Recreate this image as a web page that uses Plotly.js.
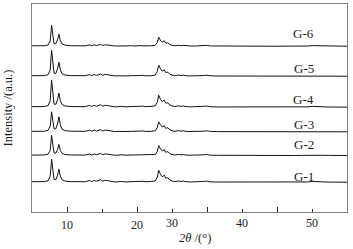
<!DOCTYPE html>
<html>
<head>
<meta charset="utf-8">
<script src="https://cdn.plot.ly/plotly-3.0.1.min.js"></script>
<style>html,body{margin:0;padding:0;background:#fff;}#chart{width:353px;height:249px;}</style>
</head>
<body>
<div id="chart"></div>
<script>
// 2θ positions (degrees)
var twoTheta = [5,6,6.8,7.3,7.6,7.8,7.95,8.15,8.4,8.65,8.85,9.05,9.3,9.7,10.5,11.3,12.0,12.6,13.2,13.5,13.9,14.2,14.8,15.1,15.5,15.9,16.3,16.8,17.3,17.8,18.3,19.2,19.7,20.3,20.8,21.3,22.1,22.6,22.9,23.1,23.35,23.6,23.9,24.1,24.4,24.7,25.0,25.4,25.9,26.3,26.6,27.0,27.6,28.4,29.3,29.9,30.5,31.5,32.8,34.0,35.2,36.3,37.5,38.8,40.0,41.3,42.5,43.5,44.4,45.1,45.6,46.3,47.5,48.6,49.3,50];

var sampleNames = ["G-1","G-2","G-3","G-4","G-5","G-6"];

var intensityG1 = [0.5,0.3,0.6,1.5,6,23,15,3,2.5,7,13,6,2.5,1.2,0.6,0.4,0.3,0.5,1.8,0.8,1.8,0.9,2.5,1,2,1.5,0.6,0.3,0.4,0.8,0.3,0.6,0.3,0.8,1,0.4,0.6,1.2,5,12,8,5.5,7,4,4.5,2.2,1.2,0.6,1.3,0.7,1.2,0.5,0.3,0.2,0.7,1.1,0.4,0.2,0.2,0.3,0.1,0.3,0.2,0.1,0,0.1,0,0.1,0.3,0.8,0.6,0.2,0.1,0.1,0.2,0];
var intensityG2 = [0.4,0.3,0.5,1.3,5,20,13,2.6,2.2,6,11,5,2.2,1,0.5,0.3,0.3,0.4,1.4,0.6,1.5,0.7,2,0.8,1.6,1.2,0.5,0.3,0.3,0.7,0.3,0.5,0.2,0.7,0.8,0.3,0.5,1,4,10,6.5,4.5,6,3.3,3.8,1.8,1,0.5,1.1,0.6,1,0.4,0.3,0.2,0.6,0.9,0.3,0.2,0.1,0.3,0.1,0.2,0.1,0.1,0,0.1,0,0.1,0.2,0.6,0.5,0.2,0.1,0.1,0.1,0];
var intensityG3 = [0.5,0.3,0.6,1.5,5.5,20,14,3,3,8,15,7,2.6,1.2,0.6,0.4,0.3,0.5,1.6,0.7,1.7,0.8,2.2,0.9,1.8,1.3,0.5,0.3,0.4,0.7,0.3,0.5,0.3,0.7,0.9,0.4,0.5,1.1,4.2,10,7,4.8,6.2,3.5,4,2,1.1,0.5,1.2,0.6,1.1,0.4,0.3,0.2,0.6,1,0.4,0.2,0.2,0.3,0.1,0.2,0.2,0.1,0,0.1,0,0.1,0.3,0.7,0.5,0.2,0.1,0.1,0.2,0];
var intensityG4 = [0.5,0.3,0.6,1.6,6.5,27,17,3.2,2.8,7.5,14,6.5,2.6,1.2,0.6,0.4,0.3,0.5,1.7,0.8,1.8,0.9,2.4,1,1.9,1.4,0.6,0.3,0.4,0.8,0.3,0.6,0.3,0.8,1,0.4,0.6,1.2,5,12,8,5.5,7,4,4.3,2.1,1.2,0.6,1.3,0.7,1.2,0.5,0.3,0.2,0.7,1.1,0.4,0.2,0.2,0.3,0.1,0.3,0.2,0.1,0,0.1,0,0.1,0.3,0.8,0.6,0.2,0.1,0.1,0.2,0];
var intensityG5 = [0.5,0.3,0.6,1.5,6,26,16,3,2.7,7.5,14,6.3,2.5,1.2,0.6,0.4,0.3,0.5,1.5,0.7,1.6,0.8,2.2,0.9,1.8,1.3,0.5,0.3,0.4,0.7,0.3,0.5,0.3,0.7,0.9,0.4,0.5,1.1,4.6,11,7.5,5,6.5,3.7,4.1,2,1.1,0.5,1.2,0.6,1.1,0.4,0.3,0.2,0.6,1,0.4,0.2,0.2,0.3,0.1,0.3,0.2,0.1,0,0.1,0,0.1,0.3,0.7,0.5,0.2,0.1,0.1,0.2,0];
var intensityG6 = [0.5,0.3,0.5,1.3,5,21,13,2.7,2.4,6.5,12,5.5,2.3,1.1,0.5,0.4,0.3,0.4,1.3,0.6,1.4,0.7,1.9,0.8,1.5,1.1,0.5,0.3,0.3,0.6,0.3,0.5,0.2,0.6,0.8,0.3,0.5,1,3.8,9,6,4.2,5.5,3.1,3.5,1.7,1,0.5,1,0.5,0.9,0.4,0.3,0.2,0.5,0.9,0.3,0.2,0.1,0.3,0.1,0.2,0.1,0.1,0,0.1,0,0.1,0.2,0.6,0.5,0.2,0.1,0.1,0.1,0];

// vertical stacking offsets (a.u.)
var stackOffsets = [29.8, 56.6, 80.3, 105, 136, 166];
var labelLift = [5.4, 10.7, 7, 8, 8, 13];

// x tick labels as printed on the original figure
var majorTickVals = [10,20,30,40];
var majorTickText = ["10","20","",""];
var minorTickVals = [15,25,35,45];
var minorTickText = ["","30","40","50"];

var allIntensities = [intensityG1,intensityG2,intensityG3,intensityG4,intensityG5,intensityG6];

var traces = [];
var annotations = [];
var serif = "Liberation Serif, Times New Roman, serif";
for (var i = 0; i < sampleNames.length; i++) {
  var off = stackOffsets[i];
  traces.push({
    x: twoTheta,
    y: allIntensities[i].map(function(v){ return v + off; }),
    type: "scatter", mode: "lines",
    line: {color: "#111", width: 1},
    hoverinfo: "skip", showlegend: false
  });
  annotations.push({
    x: 43.8, y: off + labelLift[i], xref: "x", yref: "y",
    text: sampleNames[i], showarrow: false,
    font: {family: serif, size: 13, color: "#1a1a1a"},
    xanchor: "center", yanchor: "middle"
  });
}
// invisible trace on the secondary axis so it is drawn
traces.push({x:[5,50], y:[0,0], xaxis:"x2", yaxis:"y", mode:"lines", line:{width:0, color:"rgba(0,0,0,0)"}, hoverinfo:"skip", showlegend:false});

annotations.push({
  xref: "paper", yref: "paper", x: 0.518, y: -0.123,
  text: "<i>2θ</i> /(°)", showarrow: false,
  font: {family: serif, size: 12.5, color: "#1a1a1a"},
  xanchor: "center", yanchor: "middle"
});
annotations.push({
  xref: "paper", yref: "paper", x: -0.075, y: 0.5,
  text: "Intensity /(a.u.)", showarrow: false, textangle: -90,
  font: {family: serif, size: 12.5, color: "#1a1a1a"},
  xanchor: "center", yanchor: "middle"
});

var layout = {
  width: 353, height: 249,
  margin: {l: 32, r: 6, t: 4, b: 37},
  paper_bgcolor: "#fff", plot_bgcolor: "#fff",
  xaxis: {
    range: [5, 50], showgrid: false, zeroline: false,
    showline: true, mirror: true, linecolor: "#808080", linewidth: 1,
    tickmode: "array", tickvals: majorTickVals, ticktext: majorTickText,
    ticks: "inside", ticklen: 5, tickcolor: "#222", tickwidth: 1,
    ticklabelstandoff: 2,
    tickfont: {family: serif, size: 12, color: "#1a1a1a"}
  },
  xaxis2: {
    range: [5, 50], overlaying: "x", side: "bottom", anchor: "y",
    showgrid: false, zeroline: false, showline: false,
    tickmode: "array", tickvals: minorTickVals, ticktext: minorTickText,
    ticks: "inside", ticklen: 3, tickcolor: "#222", tickwidth: 1,
    ticklabelstandoff: 2,
    tickfont: {family: serif, size: 12, color: "#1a1a1a"}
  },
  yaxis: {
    range: [0, 208.3], showgrid: false, zeroline: false,
    showline: true, mirror: true, linecolor: "#808080", linewidth: 1,
    showticklabels: false, ticks: ""
  },
  annotations: annotations
};

Plotly.newPlot("chart", traces, layout, {staticPlot: true, displayModeBar: false});
</script>
</body>
</html>
